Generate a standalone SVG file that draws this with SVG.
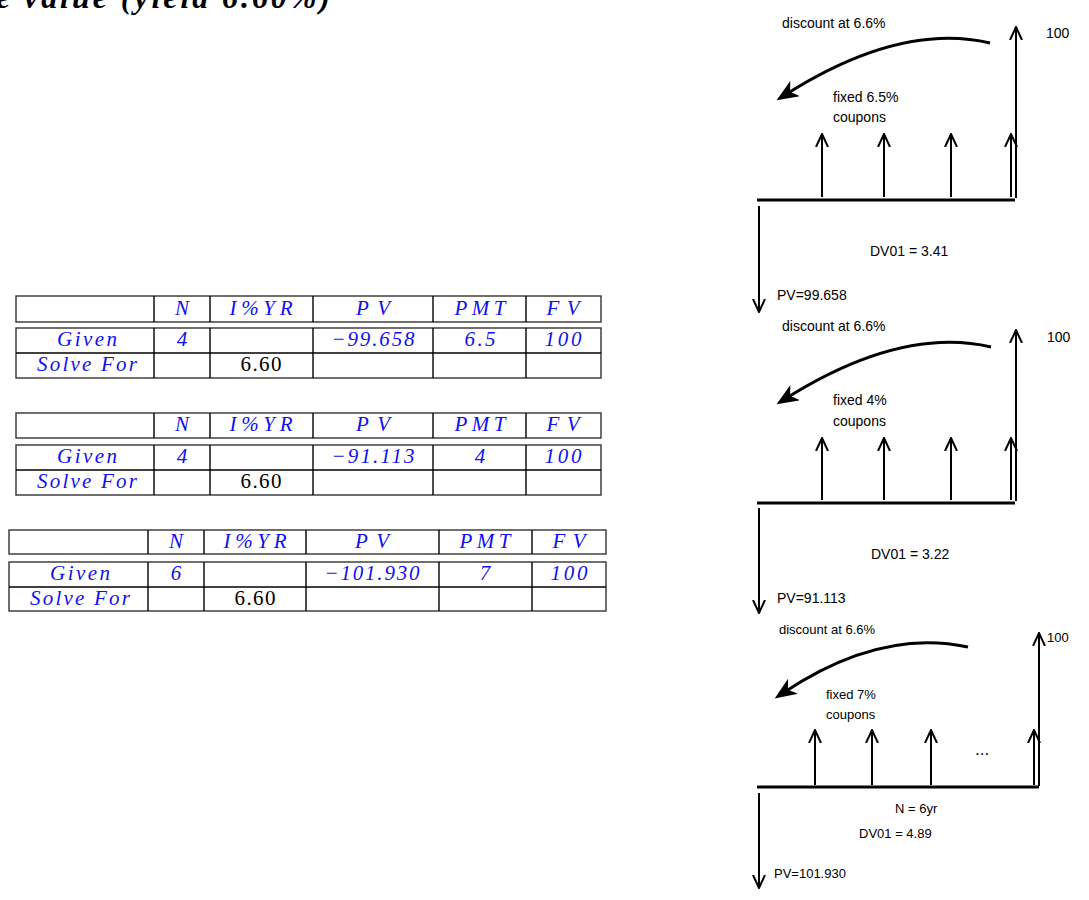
<svg xmlns="http://www.w3.org/2000/svg" width="1089" height="900" viewBox="0 0 1089 900">
<style>
.lbl{font-family:"Liberation Sans",Arial,Helvetica,sans-serif;font-size:14px;fill:#000}
.lbl3{font-family:"Liberation Sans",Arial,Helvetica,sans-serif;font-size:13px;fill:#000}
.ti{font-family:"Liberation Serif","Times New Roman",serif;font-style:italic;font-size:21px;fill:#1010f0}
.tn{font-family:"Liberation Serif","Times New Roman",serif;font-size:21px;fill:#000}
.cell{fill:#fff;stroke:#333;stroke-width:1.4}
.ln{stroke:#000;stroke-width:1.4}
.base{stroke:#000;stroke-width:3;fill:none}
.arr{stroke:#000;stroke-width:2;fill:none;marker-end:url(#open)}
.curve{stroke:#000;stroke-width:3;fill:none;marker-end:url(#dart)}
.title{font-family:"Liberation Serif","Times New Roman",serif;font-style:italic;font-weight:bold;font-size:32px;fill:#000}
</style>
<defs>
<marker id="open" viewBox="0 0 14 14" refX="13" refY="7" markerWidth="14" markerHeight="14" orient="auto" markerUnits="userSpaceOnUse">
<path d="M0,1 L13,7 L0,13" fill="none" stroke="#000" stroke-width="2"/>
</marker>
<marker id="dart" viewBox="0 0 22 18" refX="12" refY="9" markerWidth="22" markerHeight="18" orient="auto" markerUnits="userSpaceOnUse">
<path d="M0,0 L22,9 L0,18 L6,9 Z" fill="#000"/>
</marker>
</defs>
<rect width="1089" height="900" fill="#fff"/>

<text class="title" x="-4" y="8" textLength="334" lengthAdjust="spacing">e value  (yield 6.60%)</text>

<!-- Table 1 -->
<g id="table1">
<rect class="cell" x="16" y="296" width="585" height="26"/>
<line class="ln" x1="154" y1="296" x2="154" y2="322"/><line class="ln" x1="210" y1="296" x2="210" y2="322"/>
<line class="ln" x1="313" y1="296" x2="313" y2="322"/><line class="ln" x1="433" y1="296" x2="433" y2="322"/>
<line class="ln" x1="526" y1="296" x2="526" y2="322"/>
<rect class="cell" x="16" y="328" width="585" height="50"/>
<line class="ln" x1="16" y1="353" x2="601" y2="353"/>
<line class="ln" x1="154" y1="328" x2="154" y2="378"/><line class="ln" x1="210" y1="328" x2="210" y2="378"/>
<line class="ln" x1="313" y1="328" x2="313" y2="378"/><line class="ln" x1="433" y1="328" x2="433" y2="378"/>
<line class="ln" x1="526" y1="328" x2="526" y2="378"/>
<g text-anchor="middle">
<text class="ti" x="182" y="315">N</text>
<text class="ti" x="261" y="315" textLength="63" lengthAdjust="spacing">I%YR</text>
<text class="ti" x="373" y="315" textLength="34" lengthAdjust="spacing">PV</text>
<text class="ti" x="480" y="315" textLength="51" lengthAdjust="spacing">PMT</text>
<text class="ti" x="563" y="315" textLength="33" lengthAdjust="spacing">FV</text>
<text class="ti" x="87" y="346" textLength="60" lengthAdjust="spacing">Given</text>
<text class="ti" x="182" y="346">4</text>
<text class="ti" x="373" y="346" textLength="83" lengthAdjust="spacing">−99.658</text>
<text class="ti" x="480" y="346" textLength="31" lengthAdjust="spacing">6.5</text>
<text class="ti" x="563" y="346" textLength="37" lengthAdjust="spacing">100</text>
<text class="ti" x="87" y="371" textLength="100" lengthAdjust="spacing">Solve For</text>
<text class="tn" x="261" y="371" textLength="41" lengthAdjust="spacing">6.60</text>
</g>
</g>

<!-- Table 2 -->
<g id="table2">
<rect class="cell" x="16" y="413" width="585" height="25"/>
<line class="ln" x1="154" y1="413" x2="154" y2="438"/><line class="ln" x1="210" y1="413" x2="210" y2="438"/>
<line class="ln" x1="313" y1="413" x2="313" y2="438"/><line class="ln" x1="433" y1="413" x2="433" y2="438"/>
<line class="ln" x1="526" y1="413" x2="526" y2="438"/>
<rect class="cell" x="16" y="445" width="585" height="50"/>
<line class="ln" x1="16" y1="470" x2="601" y2="470"/>
<line class="ln" x1="154" y1="445" x2="154" y2="495"/><line class="ln" x1="210" y1="445" x2="210" y2="495"/>
<line class="ln" x1="313" y1="445" x2="313" y2="495"/><line class="ln" x1="433" y1="445" x2="433" y2="495"/>
<line class="ln" x1="526" y1="445" x2="526" y2="495"/>
<g text-anchor="middle">
<text class="ti" x="182" y="431">N</text>
<text class="ti" x="261" y="431" textLength="63" lengthAdjust="spacing">I%YR</text>
<text class="ti" x="373" y="431" textLength="34" lengthAdjust="spacing">PV</text>
<text class="ti" x="480" y="431" textLength="51" lengthAdjust="spacing">PMT</text>
<text class="ti" x="563" y="431" textLength="33" lengthAdjust="spacing">FV</text>
<text class="ti" x="87" y="463" textLength="60" lengthAdjust="spacing">Given</text>
<text class="ti" x="182" y="463">4</text>
<text class="ti" x="373" y="463" textLength="83" lengthAdjust="spacing">−91.113</text>
<text class="ti" x="480" y="463">4</text>
<text class="ti" x="563" y="463" textLength="37" lengthAdjust="spacing">100</text>
<text class="ti" x="87" y="488" textLength="100" lengthAdjust="spacing">Solve For</text>
<text class="tn" x="261" y="488" textLength="41" lengthAdjust="spacing">6.60</text>
</g>
</g>

<!-- Table 3 -->
<g id="table3">
<rect class="cell" x="9" y="530" width="597" height="24"/>
<line class="ln" x1="148" y1="530" x2="148" y2="554"/><line class="ln" x1="204" y1="530" x2="204" y2="554"/>
<line class="ln" x1="306" y1="530" x2="306" y2="554"/><line class="ln" x1="439" y1="530" x2="439" y2="554"/>
<line class="ln" x1="532" y1="530" x2="532" y2="554"/>
<rect class="cell" x="9" y="562" width="597" height="49"/>
<line class="ln" x1="9" y1="587" x2="606" y2="587"/>
<line class="ln" x1="148" y1="562" x2="148" y2="611"/><line class="ln" x1="204" y1="562" x2="204" y2="611"/>
<line class="ln" x1="306" y1="562" x2="306" y2="611"/><line class="ln" x1="439" y1="562" x2="439" y2="611"/>
<line class="ln" x1="532" y1="562" x2="532" y2="611"/>
<g text-anchor="middle">
<text class="ti" x="176" y="548">N</text>
<text class="ti" x="255" y="548" textLength="63" lengthAdjust="spacing">I%YR</text>
<text class="ti" x="372" y="548" textLength="34" lengthAdjust="spacing">PV</text>
<text class="ti" x="485" y="548" textLength="51" lengthAdjust="spacing">PMT</text>
<text class="ti" x="569" y="548" textLength="33" lengthAdjust="spacing">FV</text>
<text class="ti" x="80" y="580" textLength="60" lengthAdjust="spacing">Given</text>
<text class="ti" x="176" y="580">6</text>
<text class="ti" x="372" y="580" textLength="95" lengthAdjust="spacing">−101.930</text>
<text class="ti" x="485" y="580">7</text>
<text class="ti" x="569" y="580" textLength="37" lengthAdjust="spacing">100</text>
<text class="ti" x="80" y="605" textLength="100" lengthAdjust="spacing">Solve For</text>
<text class="tn" x="255" y="605" textLength="41" lengthAdjust="spacing">6.60</text>
</g>
</g>

<!-- Diagram 1 -->
<g id="bond1">
<text class="lbl" x="782" y="28">discount at 6.6%</text>
<text class="lbl" x="1046" y="38">100</text>
<text class="lbl" x="833" y="102">fixed 6.5%</text>
<text class="lbl" x="833" y="122">coupons</text>
<line class="base" x1="757" y1="200" x2="1015" y2="200"/>
</g>
<g id="bond2">
<text class="lbl" x="782" y="331">discount at 6.6%</text>
<text class="lbl" x="1047" y="342">100</text>
<text class="lbl" x="833" y="405">fixed 4%</text>
<text class="lbl" x="833" y="426">coupons</text>
<line class="base" x1="757" y1="503" x2="1015" y2="503"/>
</g>
<g id="bond3">
<text class="lbl3" x="779" y="634">discount at 6.6%</text>
<text class="lbl3" x="1047" y="642">100</text>
<text class="lbl3" x="826" y="699">fixed 7%</text>
<text class="lbl3" x="826" y="719">coupons</text>
<text class="lbl" x="975" y="755" style="font-size:17px">...</text>
<line class="base" x1="757" y1="787" x2="1039" y2="787"/>
</g>
<g id="results">
<text class="lbl" x="870" y="256">DV01 = 3.41</text>
<text class="lbl" x="777" y="300">PV=99.658</text>
<text class="lbl" x="871" y="559">DV01 = 3.22</text>
<text class="lbl" x="777" y="603">PV=91.113</text>
<text class="lbl3" x="895" y="813">N = 6yr</text>
<text class="lbl3" x="859" y="838">DV01 = 4.89</text>
<text class="lbl3" x="774" y="878">PV=101.930</text>
</g>

<g id="connectors">
<path class="curve" d="M990,43 Q900,22 785,95"/>
<line class="arr" x1="822" y1="197" x2="822" y2="134"/>
<line class="arr" x1="884" y1="197" x2="884" y2="134"/>
<line class="arr" x1="951" y1="197" x2="951" y2="134"/>
<line class="arr" x1="1011" y1="197" x2="1011" y2="134"/>
<line class="arr" x1="1016" y1="198" x2="1016" y2="27"/>
<line class="arr" x1="759" y1="206" x2="759" y2="312"/>
<path class="curve" d="M991,347 Q901,326 785,399"/>
<line class="arr" x1="822" y1="500" x2="822" y2="438"/>
<line class="arr" x1="884" y1="500" x2="884" y2="438"/>
<line class="arr" x1="951" y1="500" x2="951" y2="438"/>
<line class="arr" x1="1011" y1="500" x2="1011" y2="438"/>
<line class="arr" x1="1016" y1="501" x2="1016" y2="330"/>
<line class="arr" x1="759" y1="508" x2="759" y2="613"/>
<path class="curve" d="M968,647 Q880,628 783,693"/>
<line class="arr" x1="815" y1="785" x2="815" y2="730"/>
<line class="arr" x1="872" y1="785" x2="872" y2="730"/>
<line class="arr" x1="931" y1="785" x2="931" y2="730"/>
<line class="arr" x1="1034" y1="785" x2="1034" y2="730"/>
<line class="arr" x1="1039" y1="786" x2="1039" y2="633"/>
<line class="arr" x1="759" y1="793" x2="759" y2="888"/>
</g>
</svg>
